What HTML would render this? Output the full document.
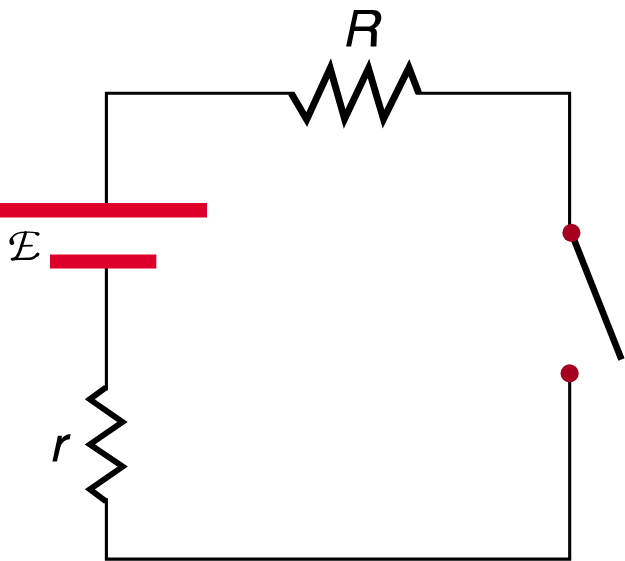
<!DOCTYPE html>
<html>
<head>
<meta charset="utf-8">
<style>
html,body{margin:0;padding:0;background:#fff;}
body{width:625px;height:561px;overflow:hidden;position:relative;}
svg{position:absolute;left:0;top:0;display:block;}
</style>
</head>
<body>
<svg width="625" height="561" viewBox="0 0 625 561">
<rect x="0" y="0" width="625" height="561" fill="#fff"/>
<g fill="none" stroke="#000" stroke-width="3.1" stroke-linejoin="miter" stroke-linecap="butt">
  <path d="M293.5 93.3 H106.4 V204"/>
  <path d="M416 93.3 H569.6 V233"/>
  <path d="M106.4 268 V390.3"/>
  <path d="M106.4 498.3 V559.1 H569.7 V373.4"/>
</g>
<!-- R resistor -->
<path fill="none" stroke="#000" stroke-width="6.9" stroke-linejoin="miter" stroke-miterlimit="10" stroke-linecap="butt"
  d="M291.25 93.3 L306.7 119.6 L330.2 68.3 L344.6 119 L368.5 68.4 L383.5 119 L408.95 67.6 L418.65 92.9"/>
<!-- r resistor -->
<path fill="none" stroke="#000" stroke-width="5.9" stroke-linejoin="miter" stroke-miterlimit="10" stroke-linecap="butt"
  d="M106 387.4 L89.8 399.3 L122.5 422 L89.9 444.4 L122.7 466.6 L89.9 489.4 L106 501.3"/>
<!-- battery -->
<rect x="0" y="203" width="207" height="14.5" fill="#de0028"/>
<rect x="50" y="254.5" width="106.3" height="14" fill="#de0028"/>
<!-- switch -->
<path d="M571.4 232.9 L621.5 359.5" stroke="#000" stroke-width="6.6" fill="none"/>
<circle cx="571.4" cy="232.85" r="9.1" fill="#a60020"/>
<circle cx="569.6" cy="373.4" r="9.1" fill="#a60020"/>
<!-- R label -->
<path fill="#000" fill-rule="evenodd" d="M346.1 46.5 L353.9 10.1 L372.5 10.1 C378.8 10.1 381.6 13.6 381.3 17.9 C381 22.6 378 26.6 374.3 28.3 C376.5 29.4 377.1 31.4 376.9 33.5 L376.4 46.6 L370.6 46.6 L371.2 34.5 C371.3 32 370.3 30.9 367.3 30.9 L354.3 30.9 L351.1 46.5 Z
 M357.8 14 L370.3 14 C373.9 14 375.6 16.3 375.3 19.3 C375 23.3 372 26.6 367.8 26.6 L355.2 26.6 Z"/>
<!-- r label -->
<path fill="#000" d="M52.4 461.4 L57.9 435.8 L62 435.8 L61.5 438.7 C63.5 436.3 66.5 434.6 70.6 434.1 L69.8 439.3 C65.6 439.6 62.3 442 60.5 446.5 L56.9 461.4 Z"/>
<!-- script E -->
<g fill="none" stroke="#000" stroke-linecap="round">
  <path d="M13 236.8 C14.5 234.5 17 233.2 21 232.6 C27 231.9 33 232.1 36.5 233" stroke-width="1.5"/>
  <path d="M25.6 232.6 C24.5 236.5 22.8 242 21.5 246 C20.5 250 19 254 17 256.8 C15.8 258.3 14.5 259 12.5 259.2" stroke-width="2.9"/>
  <path d="M21 245.8 L32 245.6" stroke-width="1.8"/>
  <path d="M11.8 259.2 C18 258.5 27 259.3 31.5 258.5 C34.5 258 36 256 37.5 254.5" stroke-width="2.3"/>
</g>
<path fill="#000" d="M15.5 234.3 C12 235.8 9.4 238.5 9.4 241.6 C9.4 243.6 10.4 245.1 12 245.1 C13.6 245.1 14.6 243.8 14.1 242 C13.6 240.5 12.6 239.5 13 237.5 C13.4 236.2 14.4 235.2 15.5 234.3 Z"/>
<ellipse cx="37.3" cy="233.8" rx="2.4" ry="1.7" transform="rotate(20 37.3 233.8)" fill="#000"/>
<ellipse cx="37.4" cy="254.6" rx="1.7" ry="2.2" transform="rotate(40 37.4 254.6)" fill="#000"/>
</svg>
</body>
</html>
